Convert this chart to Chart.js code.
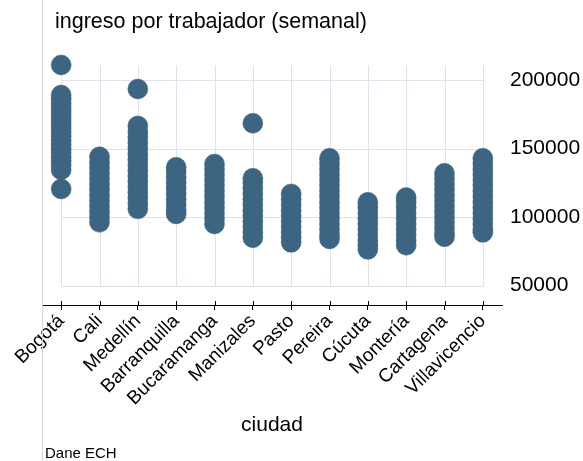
<!DOCTYPE html>
<html>
<head>
<meta charset="utf-8">
<script src="https://cdn.jsdelivr.net/npm/chart.js@4"></script>
<style>
  html, body { margin: 0; padding: 0; background: #fff; }
</style>
</head>
<body>
<canvas id="c" width="583" height="461"></canvas>
<script>
/* Ingreso semanal por trabajador, por ciudad (strip plot, Dane ECH) */
const cities = ['Bogotá', 'Cali', 'Medellín', 'Barranquilla', 'Bucaramanga', 'Manizales',
  'Pasto', 'Pereira', 'Cúcuta', 'Montería', 'Cartagena', 'Villavicencio'];

// values, one list per city
const bogota = [210900, 189000, 186000, 183000, 180000, 177000, 174000, 171000, 168000, 165000,
  162000, 159000, 156000, 153000, 150000, 147000, 144000, 141000, 138000, 134500, 120500];
const cali = [144000, 140000, 136000, 132000, 128000, 124000, 120000, 116000, 112000, 108000, 104000, 100000, 96200];
const medellin = [193400, 166500, 162000, 158000, 154000, 150000, 146000, 142000, 138000, 134000,
  130000, 126000, 122000, 118000, 114000, 110000, 106000];
const barranquilla = [136300, 133000, 129000, 125000, 121000, 117000, 113000, 109000, 105000, 102300];
const bucaramanga = [138700, 135000, 131000, 127000, 123000, 119000, 115000, 111000, 107000, 103000, 99000, 95000];
const manizales = [168400, 128300, 125000, 121000, 117000, 113000, 109000, 105000, 101000, 97000, 93000, 89000, 85000];
const pasto = [116900, 113000, 109000, 105000, 101000, 97000, 93000, 89000, 85000, 81600];
const pereira = [142900, 139000, 135000, 131000, 127000, 123000, 119000, 115000, 111000, 107000,
  103000, 99000, 95000, 91000, 87000, 84100];
const cucuta = [110800, 107000, 103000, 99000, 95000, 91000, 87000, 83000, 79500, 76500];
const monteria = [114200, 111000, 107000, 103000, 99000, 95000, 91000, 87000, 83000, 79500];
const cartagena = [132000, 128000, 124000, 120000, 116000, 112000, 108000, 104000, 100000, 96000, 92000, 88000, 85700];
const villavicencio = [142900, 139000, 135000, 131000, 127000, 123000, 119000, 115000, 111000, 107000,
  103000, 99000, 95000, 91000, 88900];

const yTicks = [50000, 100000, 150000, 200000];
const titleText = 'ingreso por trabajador (semanal)';
const xTitle = 'ciudad';
const note = 'Dane ECH';

const INK = '#3d6480';
const GRID = '#dfe2ec';
const FRAME = '#cfd6e1';
const FONT = '"Liberation Sans", Arial, Helvetica, sans-serif';

const byCity = [bogota, cali, medellin, barranquilla, bucaramanga, manizales,
  pasto, pereira, cucuta, monteria, cartagena, villavicencio];
const points = [];
byCity.forEach((vals, i) => vals.forEach(v => points.push({ x: cities[i], y: v })));

/* Stata-style plot region: grid only spans the data box, plus the faint outer frame line */
const backdrop = {
  id: 'backdrop',
  beforeDatasetsDraw(chart) {
    const { ctx, chartArea: a, scales: { x, y } } = chart;
    const x0 = Math.round(x.getPixelForValue(0)) + 0.5;
    const x1 = Math.round(x.getPixelForValue(cities.length - 1)) + 0.5;
    const yTop = Math.round(a.top) + 0.5;
    const yBot = Math.round(y.getPixelForValue(yTicks[0])) + 0.5;
    ctx.save();
    ctx.lineWidth = 1;
    ctx.strokeStyle = FRAME;
    ctx.beginPath();
    ctx.moveTo(Math.round(a.left) + 0.5, 0);
    ctx.lineTo(Math.round(a.left) + 0.5, chart.height);
    ctx.stroke();
    ctx.strokeStyle = GRID;
    ctx.beginPath();
    cities.forEach((c, i) => {
      const px = Math.round(x.getPixelForValue(i)) + 0.5;
      ctx.moveTo(px, yTop);
      ctx.lineTo(px, yBot);
    });
    yTicks.forEach(v => {
      const py = Math.round(y.getPixelForValue(v)) + 0.5;
      ctx.moveTo(x0, py);
      ctx.lineTo(x1, py);
    });
    ctx.stroke();
    // tick marks poke a little above the axis line too
    ctx.strokeStyle = '#000';
    ctx.beginPath();
    cities.forEach((c, i) => {
      const px = Math.round(x.getPixelForValue(i)) + 0.5;
      ctx.moveTo(px, a.bottom - 4);
      ctx.lineTo(px, a.bottom);
    });
    ctx.stroke();
    ctx.restore();
  },
  afterDraw(chart) {
    const { ctx } = chart;
    ctx.save();
    ctx.fillStyle = '#000';
    ctx.textAlign = 'left';
    ctx.textBaseline = 'alphabetic';
    ctx.font = '21.5px ' + FONT;
    ctx.fillText(titleText, 55, 28);
    ctx.font = '15px ' + FONT;
    ctx.fillText(note, 45, 458);
    ctx.restore();
  }
};

new Chart(document.getElementById('c'), {
  type: 'scatter',
  data: {
    labels: cities,
    datasets: [{
      data: points,
      pointRadius: 10,
      pointHoverRadius: 10,
      pointBackgroundColor: INK,
      pointBorderColor: INK,
      pointBorderWidth: 0.5,
      clip: false
    }]
  },
  options: {
    responsive: false,
    devicePixelRatio: 1,
    animation: false,
    layout: { padding: { top: 65, left: 42, right: 0, bottom: 0 } },
    plugins: { legend: { display: false }, tooltip: { enabled: false } },
    scales: {
      x: {
        type: 'category',
        labels: cities,
        offset: true,
        grid: { offset: false, drawOnChartArea: false, tickLength: 5, color: '#000', tickColor: '#000' },
        border: { color: '#000', width: 1 },
        ticks: {
          autoSkip: false, minRotation: 45, maxRotation: 45, padding: 0,
          color: '#000', font: { family: FONT, size: 19 }
        },
        title: {
          display: true, text: xTitle, color: '#000',
          font: { family: FONT, size: 21 }, padding: { top: 0, bottom: 23 }
        },
        afterFit: s => { s.height = 156; }
      },
      y: {
        position: 'right',
        min: 35900,
        max: 210900,
        afterBuildTicks: s => { s.ticks = yTicks.map(v => ({ value: v })); },
        grid: { display: false, drawTicks: false },
        border: { display: false },
        ticks: { padding: 8, color: '#000', font: { family: FONT, size: 21 }, callback: v => String(v) },
        afterFit: s => { s.width = 81; }
      }
    }
  },
  plugins: [backdrop]
});
</script>
</body>
</html>
